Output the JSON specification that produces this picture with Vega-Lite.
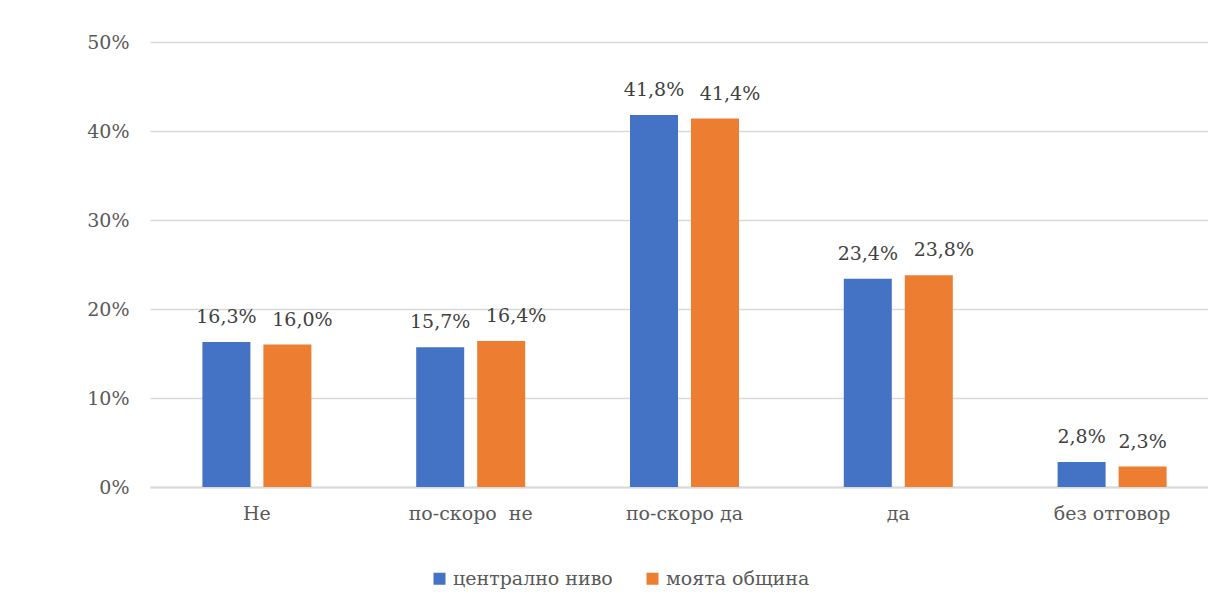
{
  "$schema": "https://vega.github.io/schema/vega-lite/v6.json",
  "width": 1069,
  "height": 445,
  "autosize": {"type": "none"},
  "padding": {"left": 150, "top": 42, "right": 0, "bottom": 120},
  "background": "white",
  "config": {
    "font": "DejaVu Serif",
    "view": {"stroke": null},
    "locale": {"number": {"decimal": ",", "thousands": " ", "grouping": [3], "currency": ["", ""]}}
  },
  "data": {
    "values": [
      {"answer": "Не", "level": "централно ниво", "share": 0.163},
      {"answer": "Не", "level": "моята община", "share": 0.160},
      {"answer": "по-скоро \u00a0не", "level": "централно ниво", "share": 0.157},
      {"answer": "по-скоро \u00a0не", "level": "моята община", "share": 0.164},
      {"answer": "по-скоро да", "level": "централно ниво", "share": 0.418},
      {"answer": "по-скоро да", "level": "моята община", "share": 0.414},
      {"answer": "да", "level": "централно ниво", "share": 0.234},
      {"answer": "да", "level": "моята община", "share": 0.238},
      {"answer": "без отговор", "level": "централно ниво", "share": 0.028},
      {"answer": "без отговор", "level": "моята община", "share": 0.023}
    ]
  },
  "encoding": {
    "x": {
      "field": "answer",
      "type": "nominal",
      "sort": null,
      "scale": {"paddingInner": 0, "paddingOuter": 0},
      "axis": {
        "title": null,
        "labelAngle": 0,
        "labelFont": "DejaVu Serif",
        "labelFontSize": 19,
        "labelColor": "#595959",
        "labelPadding": 17,
        "ticks": false,
        "domainColor": "#d9d9d9",
        "domainWidth": 2
      }
    },
    "xOffset": {
      "field": "level",
      "type": "nominal",
      "sort": ["централно ниво", "моята община"],
      "scale": {"paddingInner": 0.213, "paddingOuter": 0.859}
    },
    "y": {
      "field": "share",
      "type": "quantitative",
      "scale": {"domain": [0, 0.5]},
      "axis": {
        "title": null,
        "format": ".0%",
        "values": [0, 0.1, 0.2, 0.3, 0.4, 0.5],
        "labelOverlap": false,
        "labelFont": "DejaVu Serif",
        "labelFontSize": 19,
        "labelColor": "#595959",
        "labelPadding": 21,
        "ticks": false,
        "domain": false,
        "gridColor": "#d9d9d9",
        "gridWidth": 1.3
      }
    },
    "text": {"field": "share", "type": "quantitative", "format": ".1%"}
  },
  "layer": [
    {
      "mark": {"type": "bar"},
      "encoding": {
        "text": null,
        "color": {
          "field": "level",
          "type": "nominal",
          "scale": {"domain": ["централно ниво", "моята община"], "range": ["#4472C4", "#ED7D31"]},
          "legend": {
            "title": null,
            "orient": "none",
            "direction": "horizontal",
            "legendX": 280,
            "legendY": 527,
            "symbolType": "square",
            "symbolSize": 144,
            "symbolStrokeWidth": 0,
            "labelFont": "DejaVu Serif",
            "labelFontSize": 19,
            "labelColor": "#595959",
            "labelOffset": 4,
            "columnPadding": 30
          }
        }
      }
    },
    {
      "transform": [{"filter": "datum.level === 'централно ниво'"}],
      "mark": {"type": "text", "baseline": "alphabetic", "dy": -19, "font": "DejaVu Serif", "fontSize": 19, "color": "#404040"}
    },
    {
      "transform": [{"filter": "datum.level === 'моята община' && datum.answer !== 'без отговор'"}],
      "mark": {"type": "text", "baseline": "alphabetic", "dy": -19, "dx": 15, "font": "DejaVu Serif", "fontSize": 19, "color": "#404040"}
    },
    {
      "transform": [{"filter": "datum.level === 'моята община' && datum.answer === 'без отговор'"}],
      "mark": {"type": "text", "baseline": "alphabetic", "dy": -19, "font": "DejaVu Serif", "fontSize": 19, "color": "#404040"}
    }
  ]
}
